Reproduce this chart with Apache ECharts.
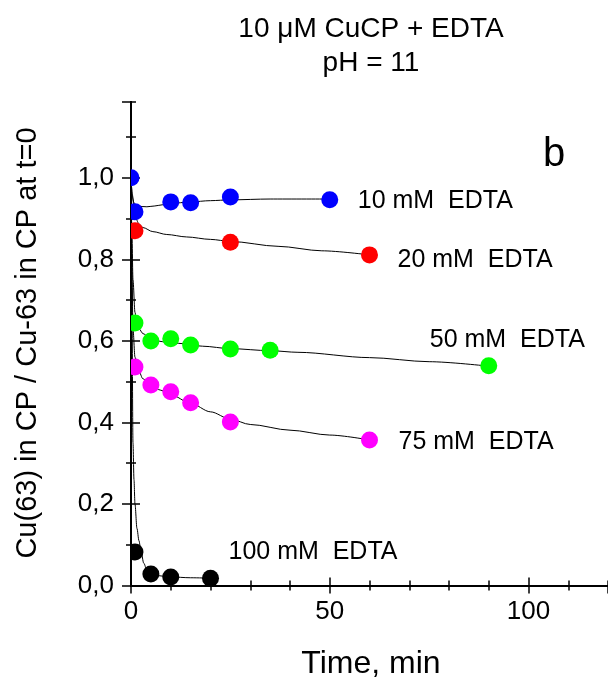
<!DOCTYPE html>
<html>
<head>
<meta charset="utf-8">
<script src="https://cdn.jsdelivr.net/npm/echarts@6/dist/echarts.min.js"></script>
<style>
html,body{margin:0;padding:0;background:#fff;overflow:hidden;}
#chart{width:608px;height:682px;}
</style>
</head>
<body>
<div id="chart"></div>
<script>
// ---- data ----
const titleLines = ['10 \u03BCM CuCP + EDTA', 'pH = 11'];
const xName = 'Time, min';
const yName = 'Cu(63) in CP / Cu-63 in CP at t=0';
const panelTag = 'b';

const seriesNames = ['10 mM  EDTA', '20 mM  EDTA', '50 mM  EDTA', '75 mM  EDTA', '100 mM  EDTA'];

// measured points
const t10 = [0, 1, 10, 15, 25, 50];
const v10 = [1.0, 0.917, 0.941, 0.939, 0.953, 0.946];
const t20 = [1, 25, 60];
const v20 = [0.870, 0.842, 0.811];
const t50 = [1, 5, 10, 15, 25, 35, 90];
const v50 = [0.644, 0.600, 0.605, 0.590, 0.580, 0.577, 0.539];
const t75 = [1, 5, 10, 15, 25, 60];
const v75 = [0.536, 0.492, 0.475, 0.448, 0.401, 0.357];
const t100 = [1, 5, 10, 20];
const v100 = [0.082, 0.028, 0.021, 0.018];

// fitted curves
const ft10 = [0, 0.3, 0.7, 1.2, 2, 4, 6, 8, 10, 15, 20, 25, 35, 50];
const fv10 = [1.0, 0.96, 0.94, 0.933, 0.93, 0.929, 0.931, 0.934, 0.937, 0.941, 0.944, 0.946, 0.948, 0.948];
const ft20 = [0, 0.4, 1, 2, 3, 5.5, 9, 14, 20, 25, 37, 48, 60];
const fv20 = [1.0, 0.95, 0.905, 0.887, 0.878, 0.868, 0.861, 0.855, 0.849, 0.844, 0.832, 0.821, 0.811];
const ft50 = [0, 0.2, 0.5, 1, 1.5, 2, 3, 5, 8, 12, 18, 25, 35, 42, 60, 75, 90];
const fv50 = [1.0, 0.88, 0.75, 0.67, 0.64, 0.63, 0.618, 0.604, 0.598, 0.594, 0.587, 0.581, 0.576, 0.572, 0.559, 0.549, 0.538];
const ft75 = [0, 0.2, 0.5, 1, 2, 3, 5, 7.5, 10, 15, 20, 25, 30, 40, 50, 60];
const fv75 = [1.0, 0.8, 0.63, 0.56, 0.525, 0.507, 0.49, 0.479, 0.468, 0.447, 0.426, 0.408, 0.395, 0.381, 0.369, 0.357];
const ft100 = [0, 0.2, 0.5, 0.75, 1, 1.5, 2, 2.5, 3.2, 4, 5, 7, 10, 15, 20];
const fv100 = [1.0, 0.75, 0.35, 0.26, 0.2, 0.14, 0.11, 0.085, 0.055, 0.038, 0.03, 0.024, 0.021, 0.019, 0.018];

const xTickMajor = 50, xTickMinor = 10, xMin = 0, xMax = 120;
const yTickMajor = 0.2, yTickMinor = 0.1, yMin = 0, yMax = 1.186;

// ---- styles ----
const FONT = 'Liberation Sans, Arial, Helvetica, sans-serif';
const colors = ['#0000ff', '#ff0000', '#00ff00', '#ff00ff', '#000000'];
const labelOffsets = [[28, 1], [28, 5], [-59, -26], [29, 2], [18, -26]];
const dotRadius = 8.5;

const pts = [[t10, v10], [t20, v20], [t50, v50], [t75, v75], [t100, v100]];
const fits = [[ft10, fv10], [ft20, fv20], [ft50, fv50], [ft75, fv75], [ft100, fv100]];
const zip = (a, b) => a.map((x, i) => [x, b[i]]);

const chart = echarts.init(document.getElementById('chart'), null, {renderer: 'canvas'});

function mkX(pos, interval, len, label) {
  return {
    type: 'value', min: xMin, max: xMax, interval: interval, position: pos,
    axisLine: {show: true, lineStyle: {color: '#000', width: 2}},
    axisTick: {show: true, inside: true, length: len, lineStyle: {color: '#000', width: 1.5}},
    axisLabel: {show: label, fontSize: 26, color: '#000', fontFamily: FONT, margin: 13, showMaxLabel: false},
    splitLine: {show: false}
  };
}
function mkY(pos, interval, len, label) {
  return {
    type: 'value', min: yMin, max: yMax, interval: interval, position: pos,
    axisLine: {show: true, lineStyle: {color: '#000', width: 2}},
    axisTick: {show: true, inside: true, length: len, lineStyle: {color: '#000', width: 1.5}},
    axisLabel: {show: label, fontSize: 26, color: '#000', fontFamily: FONT, margin: 17, showMaxLabel: false,
      formatter: v => v.toFixed(1).replace('.', ',')},
    splitLine: {show: false}
  };
}

const series = [];
fits.forEach((f, i) => {
  series.push({
    type: 'line', xAxisIndex: 0, yAxisIndex: 0, data: zip(f[0], f[1]),
    showSymbol: false, symbol: 'none', smooth: 0.3, smoothMonotone: 'x',
    lineStyle: {color: '#000', width: 1}, z: 2, silent: true
  });
});
pts.forEach((p, i) => {
  const n = p[0].length;
  series.push({
    type: 'custom', xAxisIndex: 0, yAxisIndex: 0, clip: true, z: 3,
    data: zip(p[0], p[1]),
    encode: {x: 0, y: 1},
    renderItem: function (params, api) {
      const c = api.coord([api.value(0), api.value(1)]);
      const children = [{
        type: 'circle', shape: {cx: c[0], cy: c[1], r: dotRadius},
        style: {fill: colors[i], stroke: null}
      }];
      if (params.dataIndex === n - 1) {
        children.push({
          type: 'text', x: c[0] + labelOffsets[i][0], y: c[1] + labelOffsets[i][1],
          style: {text: seriesNames[i], fill: '#000', font: '25px ' + FONT,
            textAlign: 'left', textVerticalAlign: 'middle'}
        });
      }
      return {type: 'group', children: children};
    }
  });
});

chart.setOption({
  animation: false,
  backgroundColor: '#fff',
  grid: {left: 131, top: 102, width: 481, height: 483.5, containLabel: false},
  xAxis: [mkX('bottom', xTickMajor, 8, true), mkX('bottom', xTickMinor, 5, false),
          mkX('top', xTickMajor, 8, false), mkX('top', xTickMinor, 5, false)],
  yAxis: [mkY('left', yTickMajor, 9, true), mkY('left', yTickMinor, 5, false),
          mkY('right', yTickMajor, 9, false), mkY('right', yTickMinor, 5, false)],
  series: series,
  graphic: [
    {type: 'text', x: 371, y: 29, style: {text: titleLines[0], font: '28px ' + FONT, fill: '#000', textAlign: 'center', textVerticalAlign: 'middle'}},
    {type: 'text', x: 371, y: 63, style: {text: titleLines[1], font: '28px ' + FONT, fill: '#000', textAlign: 'center', textVerticalAlign: 'middle'}},
    {type: 'text', x: 371, y: 664, style: {text: xName, font: '32px ' + FONT, fill: '#000', textAlign: 'center', textVerticalAlign: 'middle'}},
    {type: 'text', x: 28, y: 343, rotation: Math.PI / 2, style: {text: yName, font: '29px ' + FONT, fill: '#000', textAlign: 'center', textVerticalAlign: 'middle'}},
    {type: 'text', x: 554, y: 155, style: {text: panelTag, font: '40px ' + FONT, fill: '#000', textAlign: 'center', textVerticalAlign: 'middle'}}
  ]
});
</script>
</body>
</html>
